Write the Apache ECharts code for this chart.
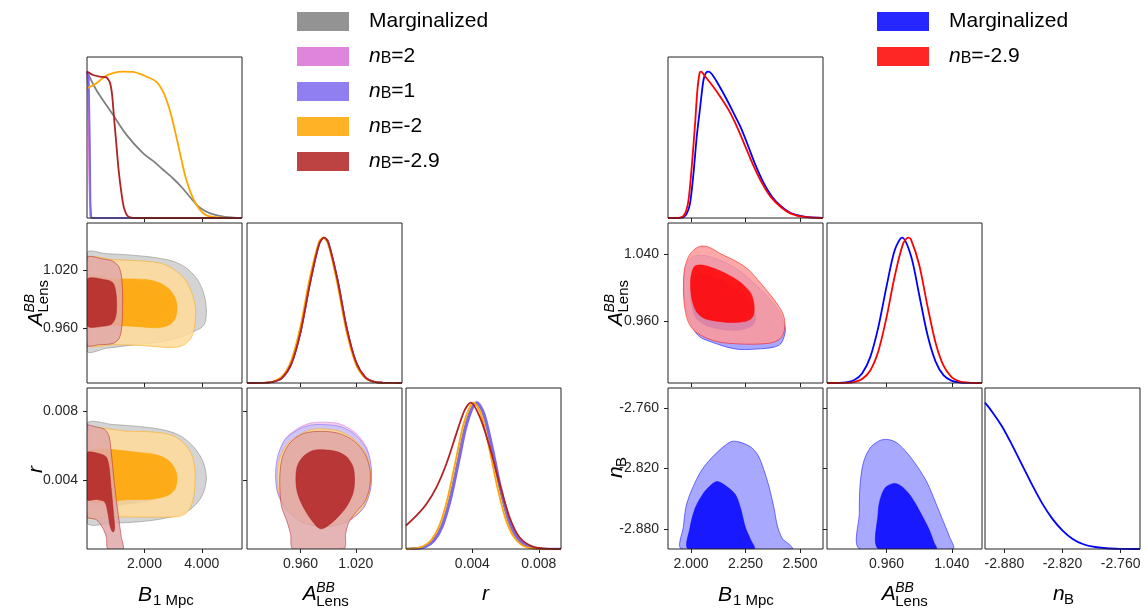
<!DOCTYPE html>
<html>
<head>
<meta charset="utf-8">
<script src="https://cdn.jsdelivr.net/npm/echarts@6.0.0/dist/echarts.min.js"></script>
<style>
html,body{margin:0;padding:0;background:#ffffff;}
#chart{width:1146px;height:610px;}
</style>
</head>
<body>
<div id="chart"></div>
<script>
// ================= tick values =================
const ticksB_L = [2, 4];
const ticksA_L = [0.96, 1.02];
const ticksR_L = [0.004, 0.008];
const ticksB_R = [2.0, 2.25, 2.5];
const ticksA_R = [0.96, 1.04];
const ticksN_R = [-2.88, -2.82, -2.76];

// ================= axis ranges =================
const rangeB_L = [0, 5.4];
const rangeA_L = [0.902, 1.07];
const rangeR_L = [0, 0.00934];
const rangeB_R = [1.894, 2.606];
const rangeA_R = [0.887, 1.077];
const rangeN_R = [-2.9, -2.74];
const rangeP = [0, 1.1];

// ================= LEFT: 1D marginals =================
const L1B_gray = [[0,1],[0.325,0.875],[0.906,0.705],[1.37,0.57],[1.95,0.443],[2.3,0.39],[2.65,0.33],[3.0,0.27],[3.3,0.21],[3.6,0.14],[3.85,0.085],[4.1,0.05],[4.4,0.025],[4.8,0.008],[5.1,0.003],[5.4,0]];
const L1B_pink = [[0,1],[0.04,0.9],[0.08,0.3],[0.11,0.02],[0.14,0],[5.4,0]];
const L1B_violet = [[0,1],[0.06,0.97],[0.1,0.5],[0.12,0.1],[0.15,0],[5.4,0]];
const L1B_orange = [[0,0.886],[0.325,0.92],[0.616,0.966],[0.906,0.99],[1.25,1.0],[1.6,0.998],[2.07,0.966],[2.42,0.93],[2.65,0.864],[2.88,0.739],[3.11,0.557],[3.29,0.398],[3.46,0.261],[3.69,0.136],[3.93,0.057],[4.16,0.018],[4.5,0.005],[5.0,0.001],[5.4,0]];
const L1B_red = [[0,1],[0.21,0.977],[0.44,0.966],[0.674,0.961],[0.79,0.93],[0.87,0.85],[0.94,0.69],[1.02,0.51],[1.1,0.33],[1.2,0.17],[1.29,0.068],[1.43,0.011],[1.7,0],[5.4,0]];

const L1A_common = [[0.902,0],[0.91,0.0001],[0.92,0.001],[0.93,0.007],[0.94,0.035],[0.95,0.131],[0.96,0.35],[0.97,0.678],[0.98,0.952],[0.9855,1],[0.99,0.968],[1.0,0.712],[1.01,0.379],[1.02,0.146],[1.03,0.041],[1.04,0.008],[1.05,0.0012],[1.06,0.0002],[1.07,0]];
const L1A_orange = [[0.902,0],[0.91,0.0002],[0.92,0.0015],[0.93,0.01],[0.94,0.045],[0.95,0.155],[0.96,0.39],[0.97,0.72],[0.98,0.97],[0.9845,1],[0.99,0.955],[1.0,0.68],[1.01,0.35],[1.02,0.13],[1.03,0.035],[1.04,0.007],[1.05,0.001],[1.07,0]];

const L1R_gray = [[0,0],[0.00062,0.004],[0.00112,0.017],[0.00162,0.057],[0.00212,0.156],[0.00262,0.344],[0.00312,0.607],[0.00362,0.866],[0.0042,1],[0.00462,0.927],[0.00512,0.695],[0.00562,0.424],[0.00612,0.206],[0.00662,0.081],[0.00712,0.026],[0.00762,0.0066],[0.00812,0.0013],[0.00934,0]];
const L1R_pink = [[0,0],[0.00067,0.004],[0.00117,0.017],[0.00167,0.057],[0.00217,0.156],[0.00267,0.344],[0.00317,0.607],[0.00367,0.866],[0.00425,1],[0.00467,0.927],[0.00517,0.695],[0.00567,0.424],[0.00617,0.206],[0.00667,0.081],[0.00717,0.026],[0.00767,0.0066],[0.00817,0.0013],[0.00934,0]];
const L1R_violet = [[0,0],[0.0007,0.004],[0.0012,0.017],[0.0017,0.057],[0.0022,0.156],[0.0027,0.344],[0.0032,0.607],[0.0037,0.866],[0.00428,1],[0.0047,0.927],[0.0052,0.695],[0.0057,0.424],[0.0062,0.206],[0.0067,0.081],[0.0072,0.026],[0.0077,0.0066],[0.0082,0.0013],[0.00934,0]];
const L1R_orange = [[0,0],[0.0005,0.004],[0.001,0.017],[0.0015,0.057],[0.002,0.156],[0.0025,0.344],[0.003,0.607],[0.0035,0.866],[0.00408,1],[0.0045,0.927],[0.005,0.695],[0.0055,0.424],[0.006,0.206],[0.0065,0.081],[0.007,0.026],[0.0075,0.0066],[0.008,0.0013],[0.00934,0]];
const L1R_red = [[0,0.16],[0.00064,0.229],[0.00124,0.309],[0.00184,0.423],[0.00244,0.584],[0.00304,0.79],[0.00354,0.95],[0.0039,1],[0.00444,0.904],[0.00504,0.698],[0.00564,0.446],[0.00624,0.217],[0.00684,0.08],[0.00764,0.016],[0.00864,0.001],[0.00934,0]];

// ================= LEFT: 2D contours (B1Mpc vs A_Lens) =================
const LBA_gray2 = [[0,1.0385],[0.674,1.0378],[1.487,1.0364],[2.30,1.034],[3.0,1.0298],[3.46,1.0228],[3.81,1.0123],[4.02,1.0001],[4.13,0.9879],[4.16,0.9757],[4.11,0.9652],[3.98,0.960],[3.75,0.9565],[3.34,0.9513],[2.88,0.9471],[2.30,0.9443],[1.49,0.9415],[0.674,0.9384],[0,0.9356]];
const LBA_gray1 = [[0,1.0106],[0.906,1.0099],[1.72,1.0078],[2.30,1.0036],[2.71,0.9959],[2.88,0.9862],[2.79,0.9764],[2.47,0.9705],[1.835,0.9677],[0.906,0.9663],[0,0.966]];
const LBA_pink2 = [[0,1.036],[0.04,1.034],[0.06,0.99],[0.04,0.941],[0,0.939]];
const LBA_violet2 = [[0,1.034],[0.05,1.033],[0.08,0.99],[0.05,0.942],[0,0.94]];
const LBA_violet1 = [[0,1.01],[0.04,1.0],[0.045,0.975],[0.03,0.965],[0,0.964]];
const LBA_orange2 = [[0,1.0322],[0.906,1.0315],[2.067,1.0298],[2.648,1.027],[3.113,1.0193],[3.46,1.0088],[3.67,0.9949],[3.786,0.9792],[3.75,0.9618],[3.635,0.9495],[3.368,0.9419],[2.997,0.9391],[2.53,0.9398],[1.835,0.9415],[0.906,0.9422],[0,0.9429]];
const LBA_orange1 = [[0,1.0113],[1.022,1.0113],[2.067,1.0106],[2.53,1.0071],[2.88,1.0001],[3.09,0.9897],[3.136,0.9792],[3.055,0.9687],[2.82,0.9624],[2.416,0.960],[1.835,0.9611],[1.022,0.9624],[0,0.9635]];
const LBA_red2 = [[0,1.0333],[0.557,1.0322],[0.906,1.0298],[1.115,1.0238],[1.208,1.0123],[1.243,0.9862],[1.208,0.960],[1.115,0.9485],[0.906,0.9436],[0.441,0.9422],[0,0.9422]];
const LBA_red1 = [[0,1.0106],[0.674,1.0102],[0.906,1.0071],[0.999,0.9984],[1.034,0.9844],[0.999,0.9715],[0.871,0.9642],[0.616,0.9618],[0,0.9625]];

// ================= LEFT: 2D contours (B1Mpc vs r) =================
const LBR_gray2 = [[0,0.007259],[0.906,0.00722],[2.067,0.007063],[2.764,0.006868],[3.287,0.006537],[3.751,0.005854],[4.042,0.005073],[4.158,0.004195],[4.088,0.003415],[3.868,0.002732],[3.461,0.002146],[2.764,0.001795],[1.835,0.00158],[0.906,0.001502],[0,0.001541]];
const LBR_gray1 = [[0,0.005561],[1.835,0.005463],[2.474,0.005171],[2.822,0.004683],[2.915,0.004098],[2.787,0.003415],[2.416,0.002927],[1.719,0.002673],[0,0.002595]];
const LBR_pink2 = [[0,0.0073],[0.04,0.0072],[0.06,0.0045],[0.04,0.0018],[0,0.0017]];
const LBR_violet2 = [[0,0.0072],[0.05,0.0071],[0.08,0.0045],[0.05,0.0019],[0,0.0018]];
const LBR_orange2 = [[0,0.00679],[1.487,0.006829],[2.416,0.006771],[2.997,0.006576],[3.368,0.006146],[3.635,0.005522],[3.751,0.004741],[3.763,0.003805],[3.693,0.002829],[3.519,0.002185],[3.229,0.001893],[2.30,0.001854],[0.906,0.001873],[0,0.001932]];
const LBR_orange1 = [[0,0.0056],[2.067,0.005561],[2.532,0.005405],[2.88,0.005073],[3.09,0.004546],[3.136,0.004],[3.055,0.003454],[2.787,0.003083],[2.30,0.002907],[1.487,0.002868],[0,0.002868]];
const LBR_red2 = [[0,0.007122],[0.325,0.007083],[0.616,0.006927],[0.767,0.006537],[0.848,0.005561],[0.929,0.004195],[1.022,0.002829],[1.115,0.001659],[1.196,0.000683],[1.254,0],[0.732,0],[0.674,0.000683],[0.534,0.001268],[0.325,0.001698],[0,0.001893]];
const LBR_red1 = [[0,0.005561],[0.441,0.005522],[0.674,0.005327],[0.767,0.00478],[0.825,0.003805],[0.883,0.002829],[0.929,0.001951],[0.964,0.001171],[0.906,0.000976],[0.813,0.001268],[0.732,0.002049],[0.616,0.002732],[0.325,0.002868],[0,0.002868]];

// ================= LEFT: 2D contours (A_Lens vs r) =================
const LAR_gray2 = [[0.9844,0.00712],[1.0035,0.00698],[1.0195,0.0065],[1.031,0.00565],[1.0362,0.0046],[1.0352,0.0034],[1.028,0.0024],[1.0132,0.00168],[0.9952,0.00135],[0.9772,0.00135],[0.959,0.00166],[0.9445,0.00234],[0.9365,0.00322],[0.9342,0.0042],[0.9365,0.0052],[0.9445,0.0061],[0.959,0.0067],[0.9715,0.00703]];
const LAR_pink2 = [[0.9844,0.007356],[1.0024,0.007259],[1.0197,0.006732],[1.0319,0.005854],[1.0365,0.004683],[1.0355,0.003415],[1.0276,0.002341],[1.0125,0.001659],[0.9945,0.001346],[0.9765,0.001346],[0.9586,0.001659],[0.9442,0.002341],[0.9352,0.003259],[0.9334,0.004293],[0.9359,0.005405],[0.9442,0.006439],[0.9593,0.007063],[0.9719,0.007317]];
const LAR_violet2 = [[0.9844,0.00722],[1.0042,0.007083],[1.0204,0.006576],[1.0322,0.005717],[1.0369,0.004624],[1.0358,0.003415],[1.0283,0.00238],[1.0132,0.001659],[0.9952,0.001327],[0.9765,0.001346],[0.9586,0.001659],[0.9442,0.002341],[0.9352,0.003259],[0.933,0.004293],[0.9352,0.005366],[0.9431,0.006341],[0.9575,0.006927],[0.9708,0.007181]];
const LAR_orange2 = [[0.9844,0.006966],[1.0024,0.006829],[1.0186,0.006341],[1.0304,0.005561],[1.0355,0.004585],[1.0347,0.003415],[1.0276,0.002439],[1.0132,0.001698],[0.9952,0.001366],[0.9772,0.001366],[0.9593,0.001659],[0.9449,0.002341],[0.937,0.00322],[0.9348,0.004195],[0.937,0.005171],[0.9449,0.006049],[0.9593,0.006634],[0.9719,0.006927]];
const LAR_red2 = [[0.9826,0.006829],[1.0024,0.006693],[1.0186,0.006244],[1.0304,0.005463],[1.0355,0.004488],[1.0347,0.003512],[1.0294,0.002732],[1.0204,0.002146],[1.0125,0.001561],[1.0089,0.000878],[1.0067,0],[0.9521,0],[0.9492,0.000878],[0.9449,0.001659],[0.9395,0.002439],[0.9377,0.003415],[0.9377,0.00439],[0.9406,0.005366],[0.9485,0.006146],[0.9629,0.006693]];
const LAR_red1 = [[0.9844,0.005756],[0.9988,0.005659],[1.0096,0.005366],[1.0168,0.00478],[1.0186,0.004],[1.0168,0.00322],[1.0096,0.002439],[0.9988,0.001756],[0.9887,0.001307],[0.9826,0.001171],[0.9772,0.001327],[0.9683,0.001951],[0.9611,0.002634],[0.9564,0.003317],[0.955,0.004],[0.9564,0.00478],[0.9629,0.005366],[0.9737,0.005717]];

// ================= RIGHT: 1D marginals =================
const R1B_blue = [[1.894,0],[1.957,0.002],[1.98,0.03],[1.995,0.098],[2.011,0.304],[2.026,0.555],[2.042,0.76],[2.057,0.943],[2.069,0.993],[2.08,1],[2.096,0.982],[2.127,0.909],[2.165,0.806],[2.196,0.715],[2.227,0.623],[2.258,0.509],[2.296,0.361],[2.335,0.235],[2.373,0.144],[2.412,0.082],[2.458,0.034],[2.52,0.009],[2.606,0]];
const R1B_red = [[1.894,0],[1.949,0.002],[1.972,0.03],[1.988,0.12],[2.003,0.35],[2.0185,0.646],[2.029,0.874],[2.039,0.989],[2.046,1],[2.065,0.966],[2.096,0.909],[2.134,0.829],[2.173,0.737],[2.211,0.623],[2.25,0.486],[2.289,0.349],[2.327,0.235],[2.366,0.144],[2.412,0.075],[2.458,0.03],[2.52,0.007],[2.606,0]];
const R1A_blue = [[0.887,0],[0.9,0.0009],[0.91,0.0045],[0.92,0.019],[0.93,0.066],[0.94,0.178],[0.95,0.386],[0.96,0.664],[0.97,0.912],[0.979,1],[0.99,0.873],[1.0,0.607],[1.01,0.335],[1.02,0.149],[1.03,0.052],[1.04,0.015],[1.05,0.0033],[1.06,0.0006],[1.077,0]];
const R1A_red = [[0.887,0],[0.9,0.0002],[0.91,0.0013],[0.92,0.0066],[0.93,0.027],[0.94,0.086],[0.95,0.22],[0.96,0.452],[0.97,0.734],[0.98,0.953],[0.9865,1],[0.99,0.986],[1.0,0.813],[1.01,0.534],[1.02,0.279],[1.03,0.117],[1.04,0.039],[1.05,0.01],[1.06,0.003],[1.07,0.0006],[1.077,0]];
const R1N_blue = [[-2.9,1.0],[-2.8929,0.94],[-2.8824,0.837],[-2.872,0.71],[-2.8616,0.573],[-2.8512,0.436],[-2.8408,0.31],[-2.8304,0.206],[-2.8199,0.126],[-2.8095,0.069],[-2.7991,0.034],[-2.7887,0.016],[-2.7748,0.005],[-2.7609,0.001],[-2.74,0]];

// ================= RIGHT: 2D contours =================
const RBA_blue2 = [[1.9676,1.0018],[1.9722,1.0213],[1.9954,1.0349],[2.034,1.0388],[2.088,1.0369],[2.165,1.0291],[2.227,1.0193],[2.289,1.0057],[2.350,0.99],[2.404,0.9725],[2.431,0.9549],[2.431,0.9452],[2.412,0.9335],[2.381,0.9296],[2.319,0.9276],[2.227,0.9268],[2.165,0.9296],[2.088,0.9362],[2.042,0.9413],[2.011,0.951],[1.988,0.9647],[1.972,0.9822]];
const RBA_blue1 = [[1.998,1.0018],[2.011,1.0142],[2.049,1.0166],[2.119,1.0115],[2.196,1.0018],[2.258,0.99],[2.289,0.9764],[2.296,0.9627],[2.281,0.9549],[2.227,0.9499],[2.15,0.9502],[2.073,0.9549],[2.026,0.9627],[2.003,0.9783]];
const RBA_red2 = [[2.011,1.0447],[2.042,1.0494],[2.080,1.0486],[2.134,1.0408],[2.211,1.031],[2.265,1.0213],[2.319,1.0057],[2.381,0.9861],[2.42,0.9705],[2.431,0.9588],[2.424,0.9452],[2.404,0.9385],[2.366,0.9346],[2.289,0.9331],[2.211,0.9335],[2.134,0.9354],[2.073,0.9401],[2.019,0.9479],[1.988,0.9588],[1.972,0.9744],[1.965,0.994],[1.969,1.0213],[1.988,1.0369]];
const RBA_red1 = [[1.998,1.0096],[2.015,1.0252],[2.049,1.0271],[2.103,1.0232],[2.165,1.0162],[2.227,1.0064],[2.273,0.994],[2.289,0.9803],[2.285,0.9666],[2.258,0.9608],[2.196,0.9588],[2.119,0.9604],[2.057,0.9643],[2.023,0.9725],[2.003,0.9881]];
const RBN_blue2 = [[1.957,-2.9],[1.965,-2.8774],[1.977,-2.8576],[2.003,-2.8412],[2.049,-2.8215],[2.111,-2.8057],[2.181,-2.7935],[2.219,-2.7935],[2.273,-2.7985],[2.307,-2.8067],[2.332,-2.8198],[2.358,-2.8379],[2.381,-2.8593],[2.397,-2.8774],[2.420,-2.8898],[2.451,-2.8954],[2.466,-2.9]];
const RBN_blue1 = [[1.988,-2.9],[1.995,-2.879],[2.019,-2.8593],[2.057,-2.8445],[2.096,-2.8356],[2.122,-2.833],[2.168,-2.8386],[2.204,-2.8461],[2.227,-2.8593],[2.25,-2.879],[2.273,-2.8905],[2.289,-2.9]];
const RAN_blue2 = [[0.9274,-2.9],[0.9266,-2.8639],[0.9274,-2.8375],[0.9315,-2.8144],[0.9398,-2.7996],[0.9522,-2.792],[0.9625,-2.7913],[0.9728,-2.7946],[0.9852,-2.8045],[0.9975,-2.8177],[1.0099,-2.8342],[1.0202,-2.854],[1.0285,-2.8705],[1.0367,-2.8869],[1.0412,-2.9]];
const RAN_blue1 = [[0.9501,-2.9],[0.9497,-2.8639],[0.9522,-2.8507],[0.9584,-2.8391],[0.9695,-2.8348],[0.979,-2.8381],[0.9901,-2.848],[1.0016,-2.8639],[1.012,-2.8803],[1.0181,-2.8935],[1.021,-2.9]];

// ================= styles =================
const FONT = '"Liberation Sans", Arial, sans-serif';
const COL = {
  gray:   { line: '#808080', c1: 'rgba(128,128,128,0.85)', c2: 'rgba(204,204,204,0.85)' },
  pink:   { line: '#da70d6', c1: 'rgba(218,112,214,0.85)', c2: 'rgba(240,198,239,0.85)' },
  violet: { line: '#7b68ee', c1: 'rgba(123,104,238,0.85)', c2: 'rgba(202,195,248,0.85)' },
  orange: { line: '#ffa500', c1: 'rgba(255,165,0,0.85)',   c2: 'rgba(255,219,153,0.85)' },
  fire:   { line: '#b22222', c1: 'rgba(178,34,34,0.85)',   c2: 'rgba(224,167,167,0.85)' },
  blue:   { line: '#0000ff', c1: 'rgba(0,0,255,0.85)',     c2: 'rgba(153,153,255,0.85)' },
  red:    { line: '#ff0000', c1: 'rgba(255,0,0,0.85)',     c2: 'rgba(255,153,153,0.85)' }
};
const NAMES = { gray: 'L_marg', pink: 'L_2', violet: 'L_1', orange: 'L_m2', fire: 'L_m29', blue: 'R_marg', red: 'R_m29' };
const LABELS = {
  L_marg: 'Marginalized',
  L_2: '{i|n}{s|B}{t|=2}',
  L_1: '{i|n}{s|B}{t|=1}',
  L_m2: '{i|n}{s|B}{t|=-2}',
  L_m29: '{i|n}{s|B}{t|=-2.9}',
  R_marg: 'Marginalized',
  R_m29: '{i|n}{s|B}{t|=-2.9}'
};

// ================= layout =================
const LX = [87, 247, 406];
const RX = [668, 827, 985];
const RY = [57, 223, 388];
const PW = 155;
const PH = [161, 160, 161];

const grids = [], xAxes = [], yAxes = [], series = [];
const fmt = v => v.toFixed(3);

function panel(left, top, h, xr, yr, xt, yt, showXL, showYL, diag) {
  const gi = grids.length;
  grids.push({ left, top, width: PW, height: h, show: true, borderColor: '#222', borderWidth: 1, backgroundColor: 'transparent', z: 10, containLabel: false });
  xAxes.push({
    gridIndex: gi, type: 'value', min: xr[0], max: xr[1],
    axisLine: { show: false }, splitLine: { show: false },
    axisTick: { show: true, inside: false, length: 4, customValues: xt, lineStyle: { color: '#222', width: 1 } },
    axisLabel: { show: showXL, customValues: xt, formatter: fmt, fontSize: 14, fontFamily: FONT, color: '#262626', margin: 8 }
  });
  yAxes.push({
    gridIndex: gi, type: 'value', min: yr[0], max: yr[1],
    axisLine: { show: false }, splitLine: { show: false },
    axisTick: { show: !diag, inside: false, length: 4, customValues: yt, lineStyle: { color: '#222', width: 1 } },
    axisLabel: { show: showYL, customValues: yt, formatter: fmt, fontSize: 14, fontFamily: FONT, color: '#262626', margin: 9 }
  });
  return gi;
}

function line(key, gi, data, width, smooth) {
  series.push({
    type: 'line', name: NAMES[key], xAxisIndex: gi, yAxisIndex: gi, data,
    showSymbol: false, symbol: 'none', smooth: smooth === undefined ? 0.3 : smooth,
    lineStyle: { color: COL[key].line, width: width || 1.8 }, itemStyle: { color: COL[key].line },
    silent: true, animation: false, clip: true
  });
}

function poly(key, gi, pts, level) {
  const fill = level === 1 ? COL[key].c1 : COL[key].c2;
  const stroke = COL[key].c1;
  series.push({
    type: 'custom', name: NAMES[key], coordinateSystem: 'cartesian2d', xAxisIndex: gi, yAxisIndex: gi,
    data: pts, silent: true, animation: false, itemStyle: { color: COL[key].line },
    renderItem: function (params, api) {
      if (params.dataIndex !== 0) return null;
      const cs = params.coordSys;
      const points = pts.map(p => api.coord(p));
      return {
        type: 'polygon',
        shape: { points: points, smooth: 0.3 },
        style: { fill: fill, stroke: stroke, lineWidth: 0.6 },
        clipPath: { type: 'rect', shape: { x: cs.x, y: cs.y, width: cs.width, height: cs.height } }
      };
    }
  });
}

// ---- left triangle ----
const gL00 = panel(LX[0], RY[0], PH[0], rangeB_L, rangeP, ticksB_L, [], false, false, true);
const gL10 = panel(LX[0], RY[1], PH[1], rangeB_L, rangeA_L, ticksB_L, ticksA_L, false, true, false);
const gL11 = panel(LX[1], RY[1], PH[1], rangeA_L, rangeP, ticksA_L, [], false, false, true);
const gL20 = panel(LX[0], RY[2], PH[2], rangeB_L, rangeR_L, ticksB_L, ticksR_L, true, true, false);
const gL21 = panel(LX[1], RY[2], PH[2], rangeA_L, rangeR_L, ticksA_L, ticksR_L, true, false, false);
const gL22 = panel(LX[2], RY[2], PH[2], rangeR_L, rangeP, ticksR_L, [], true, false, true);
// ---- right triangle ----
const gR00 = panel(RX[0], RY[0], PH[0], rangeB_R, rangeP, ticksB_R, [], false, false, true);
const gR10 = panel(RX[0], RY[1], PH[1], rangeB_R, rangeA_R, ticksB_R, ticksA_R, false, true, false);
const gR11 = panel(RX[1], RY[1], PH[1], rangeA_R, rangeP, ticksA_R, [], false, false, true);
const gR20 = panel(RX[0], RY[2], PH[2], rangeB_R, rangeN_R, ticksB_R, ticksN_R, true, true, false);
const gR21 = panel(RX[1], RY[2], PH[2], rangeA_R, rangeN_R, ticksA_R, ticksN_R, true, false, false);
const gR22 = panel(RX[2], RY[2], PH[2], rangeN_R, rangeP, ticksN_R, [], true, false, true);

// left 1D
line('gray', gL00, L1B_gray); line('pink', gL00, L1B_pink, 1.8, false); line('violet', gL00, L1B_violet, 1.8, false);
line('orange', gL00, L1B_orange); line('fire', gL00, L1B_red, 1.8, 0.2);
line('gray', gL11, L1A_common); line('pink', gL11, L1A_common); line('violet', gL11, L1A_common);
line('orange', gL11, L1A_orange); line('fire', gL11, L1A_common);
line('gray', gL22, L1R_gray); line('pink', gL22, L1R_pink); line('violet', gL22, L1R_violet, 2.6);
line('orange', gL22, L1R_orange); line('fire', gL22, L1R_red);
// left 2D
poly('gray', gL10, LBA_gray2, 2); poly('gray', gL10, LBA_gray1, 1);
poly('pink', gL10, LBA_pink2, 2);
poly('violet', gL10, LBA_violet2, 2); poly('violet', gL10, LBA_violet1, 1);
poly('orange', gL10, LBA_orange2, 2); poly('orange', gL10, LBA_orange1, 1);
poly('fire', gL10, LBA_red2, 2); poly('fire', gL10, LBA_red1, 1);

poly('gray', gL20, LBR_gray2, 2); poly('gray', gL20, LBR_gray1, 1);
poly('pink', gL20, LBR_pink2, 2); poly('violet', gL20, LBR_violet2, 2);
poly('orange', gL20, LBR_orange2, 2); poly('orange', gL20, LBR_orange1, 1);
poly('fire', gL20, LBR_red2, 2); poly('fire', gL20, LBR_red1, 1);

poly('gray', gL21, LAR_gray2, 2); poly('pink', gL21, LAR_pink2, 2);
poly('violet', gL21, LAR_violet2, 2); poly('orange', gL21, LAR_orange2, 2);
poly('fire', gL21, LAR_red2, 2); poly('fire', gL21, LAR_red1, 1);

// right 1D
line('blue', gR00, R1B_blue); line('red', gR00, R1B_red);
line('blue', gR11, R1A_blue); line('red', gR11, R1A_red);
line('blue', gR22, R1N_blue);
// right 2D
poly('blue', gR10, RBA_blue2, 2); poly('blue', gR10, RBA_blue1, 1);
poly('red', gR10, RBA_red2, 2); poly('red', gR10, RBA_red1, 1);
poly('blue', gR20, RBN_blue2, 2); poly('blue', gR20, RBN_blue1, 1);
poly('blue', gR21, RAN_blue2, 2); poly('blue', gR21, RAN_blue1, 1);

// ================= titles =================
function t(x, y, s, size, italic) {
  return { type: 'text', x: x, y: y, silent: true,
    style: { text: s, fontSize: size, fontStyle: italic ? 'italic' : 'normal', fontFamily: FONT, fill: '#000', align: 'left', verticalAlign: 'middle' } };
}
function titleA(x, y, rot) {
  return { type: 'group', x: x, y: y, rotation: rot || 0, children: [
    t(0, -7.4, 'A', 21, true), t(13.5, -13.6, 'BB', 14, true), t(13.5, 0, 'Lens', 15, false) ] };
}
function titleB(x, y) {
  return { type: 'group', x: x, y: y, children: [ t(0, -7.4, 'B', 21, true), t(15, -2, '1 Mpc', 15, false) ] };
}
function titleN(x, y, rot) {
  return { type: 'group', x: x, y: y, rotation: rot || 0, children: [ t(0, -7.4, 'n', 21, true), t(11, -2, 'B', 15, false) ] };
}
function titleR(x, y, rot) {
  return { type: 'group', x: x, y: y, rotation: rot || 0, children: [ t(0, -7.4, 'r', 21, true) ] };
}
const ROT = Math.PI / 2;
const graphics = [
  titleB(138, 602.7), titleA(302.7, 601.7), titleR(482, 601.7),
  titleB(718, 602.7), titleA(881.7, 601.7), titleN(1053, 602),
  titleA(44, 326, ROT), titleR(44, 473, ROT),
  titleA(624, 326, ROT), titleN(624, 478, ROT)
];

// ================= legends =================
const richL = {
  i: { fontStyle: 'italic', fontSize: 21, fontFamily: FONT, color: '#000', lineHeight: 19 },
  s: { fontSize: 16, fontFamily: FONT, color: '#000', padding: [5, 0, 0, 0], lineHeight: 14 },
  t: { fontSize: 21, fontFamily: FONT, color: '#000', lineHeight: 19 }
};
function legend(left, keys) {
  return {
    left: left, top: 11, orient: 'vertical', icon: 'rect', itemWidth: 52, itemHeight: 19, itemGap: 14,
    selectedMode: false, padding: 0,
    data: keys.map(k => ({ name: NAMES[k], itemStyle: { color: COL[k].c1 } })),
    formatter: n => LABELS[n],
    textStyle: { fontSize: 21, fontFamily: FONT, color: '#000', lineHeight: 19, padding: [0, 0, 0, 15], rich: richL }
  };
}

const chart = echarts.init(document.getElementById('chart'), null, { renderer: 'canvas' });
chart.setOption({
  backgroundColor: '#ffffff',
  animation: false,
  grid: grids, xAxis: xAxes, yAxis: yAxes, series: series,
  legend: [legend(297, ['gray', 'pink', 'violet', 'orange', 'fire']), legend(877, ['blue', 'red'])],
  graphic: graphics
});
</script>
</body>
</html>
